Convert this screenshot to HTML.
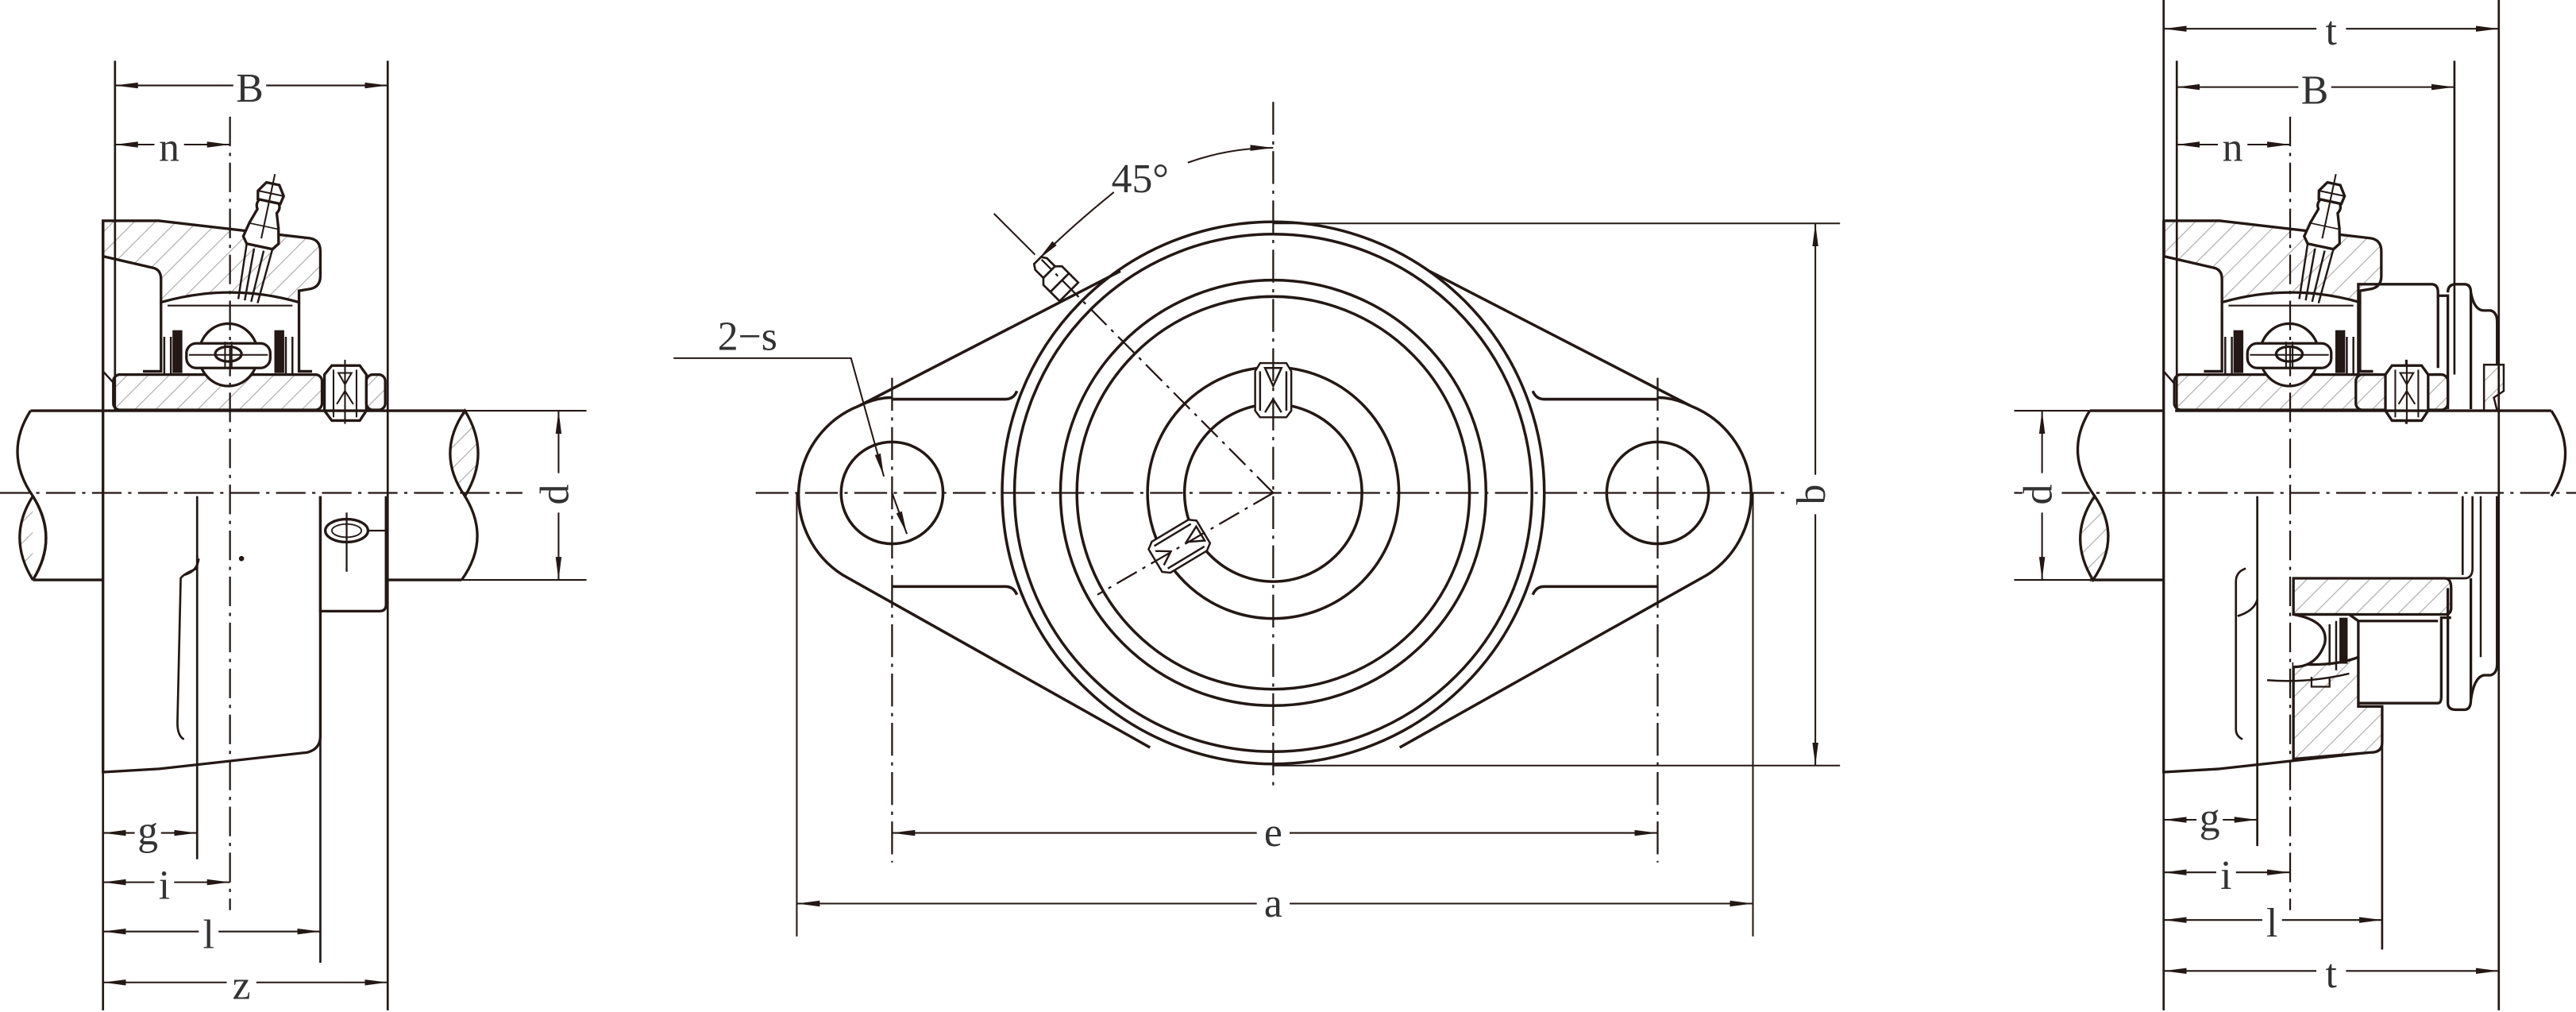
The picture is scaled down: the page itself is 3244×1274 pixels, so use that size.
<!DOCTYPE html>
<html><head><meta charset="utf-8"><style>
html,body{margin:0;padding:0;background:#fff;}
svg{display:block;}
text{font-family:"Liberation Serif",serif;fill:#333;}
</style></head><body>
<svg width="3244" height="1274" viewBox="0 0 1568 616" preserveAspectRatio="none" xmlns="http://www.w3.org/2000/svg">
<defs>
<pattern id="h" patternUnits="userSpaceOnUse" width="9" height="9" patternTransform="rotate(45)">
<rect width="9" height="9" fill="#fff"/><line x1="0" y1="0" x2="0" y2="9" stroke="#aaa" stroke-width="1.1"/>
</pattern>
<marker id="ar" viewBox="0 0 14 6" refX="14" refY="3" markerWidth="14" markerHeight="6" markerUnits="userSpaceOnUse" orient="auto-start-reverse">
<path d="M0,1.2 L14,3 L0,4.8 Z" fill="#231815"/>
</marker>
<g id="up" fill="none" stroke="#231815" stroke-width="1.6">
<path d="M62.7,134.4 L96.7,134.4 L188.5,145 Q195,146 195,153 L195,168 Q195,175 188,176 L182,177 L182,184 Q140,172 98,184 L98,170 Q98,164 93,163 L62.7,156 Z" fill="url(#h)"/>
<path d="M98,184 L98,226 L87,226 M182,184 L182,226 L190,226"/>
<path d="M102,186 L178,186" stroke-width="1"/>
<path d="M100,205 L100,228 M104,205 L104,228 M174,205 L174,228 M178,205 L178,228" stroke-width="1.2"/>
<rect x="105" y="201" width="6" height="26" fill="#231815" stroke="none"/>
<rect x="167" y="201" width="6" height="26" fill="#231815" stroke="none"/>
<rect x="69" y="228" width="127" height="21.5" rx="4" fill="url(#h)"/>
<ellipse cx="139" cy="216" rx="18" ry="19" fill="#fff"/>
<rect x="113.5" y="209" width="51" height="15" rx="6" fill="#fff"/>
<path d="M115,216 L163,216" stroke-width="1"/>
<ellipse cx="139" cy="215.5" rx="8" ry="4.5"/>
<path d="M137,208 L137,224 M141,208 L141,224" stroke-width="1"/>
<path d="M197.5,228 L197.5,250 L202,256 L219,256 L223,250 L223,228 L219,222.5 L202,222.5 Z" fill="#fff"/>
<path d="M203,225 L203,254 M217,225 L217,254 M205,246 L210,238 L215,246 M206,227 L214,227 L210,234 Z" stroke-width="1"/>
<path d="M210,219 L210,258" stroke-width="1"/>
<rect x="223" y="228" width="11.5" height="21.5" rx="4" fill="url(#h)"/>
<g transform="translate(158,150) rotate(12)">
<path d="M-8,0 L-6,34 M8,0 L6,34 M-3,2 L-2,34 M3,2 L2,34" stroke-width="1.2"/>
<path d="M-11,-4 L-9,-13 L9,-13 L11,-4 L8,0 L-8,0 Z" fill="#fff"/>
<path d="M-9,-13 L-6,-22 Q-8,-25 -6,-28 L6,-28 Q8,-25 6,-22 L9,-13" fill="#fff"/>
<path d="M-7,-28 L-8,-33 L-4,-39 L4,-39 L8,-33 L7,-28 Z" fill="#fff"/>
<path d="M-8,-33 L8,-33 M0,-45 L0,-5" stroke-width="1"/>
</g>
</g>
</defs>

<g fill="none" stroke="#231815" stroke-width="1.6">
<use href="#up"/>
<path d="M62.7,134 L62.7,470 L97,468 L187,458 Q195,456 195,448 L195,302"/>
<path d="M62.7,226 L70,234" stroke-width="1.2"/>
<path d="M195,302 L195,372 L231,372 Q235,372 235,368 L235,302"/>
<ellipse cx="211" cy="323" rx="13" ry="7"/>
<ellipse cx="211" cy="323" rx="9" ry="4" stroke-width="0.9"/>
<path d="M211,312 L211,348 M224,323 L235,323" stroke-width="1.1"/>
<path d="M18.6,250 L283,250 M20,353 L62.7,353 M235,353 L281,353"/>
<path d="M18.6,250 Q2,276 20,302 Q36,328 20,353"/>
<path d="M20,302 Q4,327 20,353" fill="url(#h)"/>
<path d="M20,302 Q36,327 20,353"/>
<path d="M283,250 Q265,276 283,302 Q299,276 283,250 Z" fill="url(#h)"/>
<path d="M283,302 Q299,328 281,353"/>
<path d="M283,250 L357,250 M281,353 L357,353" stroke-width="1"/>
<path d="M120,302 L120,523" stroke-width="1.3"/>
<path d="M120,338 L120,346 Q112,349 110,352 L108,440 Q108,448 112,450 M120,346" stroke-width="1.3"/>
<path d="M112,350 Q120,348 121,340" stroke-width="1.3"/>
<path d="M195,372 L195,586" stroke-width="1.3"/>
<path d="M62.7,470 L62.7,615 M236,37 L236,615 M70,37 L70,250" stroke-width="1.3"/>
<circle cx="147" cy="340" r="0.8" fill="#231815"/>
<path d="M140,71 L140,554" stroke-width="1.1" stroke-dasharray="18,4,2,4"/>
<path d="M0,300 L318,300" stroke-width="1.1" stroke-dasharray="18,4,2,4"/>
<g stroke-width="1">
<line x1="70" y1="52" x2="236" y2="52" marker-start="url(#ar)" marker-end="url(#ar)"/>
<line x1="70" y1="88" x2="140" y2="88" marker-start="url(#ar)" marker-end="url(#ar)"/>
<line x1="62.7" y1="507" x2="120" y2="507" marker-start="url(#ar)" marker-end="url(#ar)"/>
<line x1="62.7" y1="537" x2="140" y2="537" marker-start="url(#ar)" marker-end="url(#ar)"/>
<line x1="62.7" y1="567" x2="195" y2="567" marker-start="url(#ar)" marker-end="url(#ar)"/>
<line x1="62.7" y1="598" x2="236" y2="598" marker-start="url(#ar)" marker-end="url(#ar)"/>
<line x1="340" y1="250" x2="340" y2="353" marker-start="url(#ar)" marker-end="url(#ar)"/>
</g>
</g>
<g font-size="25" text-anchor="middle" stroke="none">
<rect x="142" y="40" width="20" height="24" fill="#fff"/><text x="152" y="62">B</text>
<rect x="94" y="76" width="18" height="24" fill="#fff"/><text x="103" y="98">n</text>
<rect x="82" y="496" width="16" height="22" fill="#fff"/><text x="90" y="514">g</text>
<rect x="94" y="526" width="12" height="22" fill="#fff"/><text x="100" y="547">i</text>
<rect x="121" y="556" width="12" height="24" fill="#fff"/><text x="127" y="577">l</text>
<rect x="138" y="586" width="18" height="24" fill="#fff"/><text x="147" y="608">z</text>
<rect x="328" y="288" width="24" height="24" fill="#fff"/>
<text x="340" y="301" transform="rotate(-90 340 301)" dominant-baseline="middle">d</text>
</g>

<g fill="none" stroke="#231815" stroke-width="1.7">
<path d="M543,243 L612,243 Q617,243 619,238 M543,357 L612,357 Q617,357 619,362"/>
<path d="M1009,243 L940,243 Q935,243 933,238 M1009,357 L940,357 Q935,357 933,362"/>
<path d="M523,247 A58,58 0 0 0 513,350 L700,455"/>
<path d="M523,247 L682,165"/>
<path d="M1029,247 A58,58 0 0 1 1039,350 L852,455"/>
<path d="M1029,247 L870,165"/>
<path d="M523,247 Q533,242 543,242 M1029,247 Q1019,242 1009,242"/>
<circle cx="543" cy="300" r="31"/>
<circle cx="1009" cy="300" r="31"/>
<circle cx="775" cy="300" r="165" fill="none"/>
<circle cx="775" cy="300" r="157.5"/>
<circle cx="775" cy="300" r="129.5"/>
<circle cx="775" cy="300" r="119.5"/>
<circle cx="775" cy="300" r="76.5"/>
<circle cx="775" cy="300" r="54"/>
<g stroke-width="1.2">
<path d="M764,226 L767,221 L783,221 L786,226 L786,250 L783,254 L767,254 L764,250 Z" fill="#fff"/>
<path d="M767,226 L767,250 M783,226 L783,250 M770,224 L780,224 L775,235 Z M770,251 L775,243 L780,251"/>
</g>
<g stroke-width="1.2" transform="translate(717,333) rotate(59)">
<path d="M-11,-14 L-8,-18 L8,-18 L11,-14 L11,12 L8,16 L-8,16 L-11,12 Z" fill="#fff"/>
<path d="M-8,-14 L-8,12 M8,-14 L8,12 M-5,-16 L5,-16 L0,-6 Z M-5,13 L0,5 L5,13"/>
</g>
<g stroke-width="1.3" transform="translate(645,172) rotate(-45)">
<path d="M-8,8 L-8,-6 L-5,-9 L-5,-16 L-3,-19 L3,-19 L5,-16 L5,-9 L8,-6 L8,8 Z" fill="#fff"/>
<path d="M-8,0 L8,0 M-5,-9 L5,-9"/>
</g>
<path d="M775,136 L1120,136 M775,466 L1120,466" stroke-width="1"/>
<path d="M485,300 L485,570 M1067,300 L1067,570" stroke-width="1"/>
<path d="M775,62 L775,480" stroke-width="1.1" stroke-dasharray="20,4,2,4"/>
<path d="M460,300 L1090,300" stroke-width="1.1" stroke-dasharray="20,4,2,4"/>
<path d="M543,230 L543,525 M1009,230 L1009,525" stroke-width="1.1" stroke-dasharray="20,4,2,4"/>
<path d="M775,300 L668,362" stroke-width="1.1" stroke-dasharray="14,4,2,4"/>
<path d="M775,300 L634,158" stroke-width="1.1" stroke-dasharray="14,4,2,4"/>
<path d="M630,155 L605,130" stroke-width="1"/>
<path d="M723,99 Q748,90 775,90" stroke-width="1" marker-end="url(#ar)"/>
<path d="M678,117 Q652,138 632,158" stroke-width="1" marker-end="url(#ar)"/>
<path d="M410,218 L518,218 L538,290" stroke-width="1" marker-end="url(#ar)"/>
<path d="M543,300 L552,325" stroke-width="1" marker-end="url(#ar)"/>
<g stroke-width="1">
<line x1="543" y1="507" x2="1009" y2="507" marker-start="url(#ar)" marker-end="url(#ar)"/>
<line x1="485" y1="550" x2="1067" y2="550" marker-start="url(#ar)" marker-end="url(#ar)"/>
<line x1="1105" y1="136" x2="1105" y2="466" marker-start="url(#ar)" marker-end="url(#ar)"/>
</g>
</g>
<g font-size="25" text-anchor="middle" stroke="none">
<text x="694" y="117">45°</text>
<text x="455" y="213">2−s</text>
<rect x="765" y="495" width="20" height="24" fill="#fff"/><text x="775" y="515">e</text>
<rect x="765" y="538" width="20" height="24" fill="#fff"/><text x="775" y="558">a</text>
<rect x="1093" y="289" width="24" height="24" fill="#fff"/>
<text x="1105" y="301" transform="rotate(-90 1105 301)" dominant-baseline="middle">b</text>
</g>

<g fill="none" stroke="#231815" stroke-width="1.6">
<use href="#up" transform="translate(1254.5,0)"/>
<path d="M1317,134 L1317,470 L1351,468 L1442,458 Q1450,456 1450,448 L1450,430"/>
<path d="M1317,226 L1324,234" stroke-width="1.2"/>
<path d="M1435.5,228 L1435.5,173 L1480,173 Q1484,173 1484,178 L1484,224"/>
<path d="M1484,180 L1490,180 L1490,249 M1490,178 Q1490,173 1495,173 L1500,173 Q1504,173 1504,178 L1504,249"/>
<path d="M1504,178 Q1506,189 1512,189 L1516,189 Q1520,190 1520,196 L1520,222"/>
<path d="M1512,222 L1524,222 L1524,238 L1518,242 L1520,250 L1512,250 Z" fill="url(#h)" stroke-width="1.2"/>
<rect x="1434" y="228" width="56" height="21.5" rx="4" fill="url(#h)"/>
<path d="M1452,228 L1452,250 L1456,256 L1474,256 L1478,250 L1478,228 L1474,222.5 L1456,222.5 Z" fill="#fff"/>
<path d="M1458,225 L1458,254 M1472,225 L1472,254 M1460,246 L1465,238 L1470,246 M1461,227 L1469,227 L1465,234 Z M1465,219 L1465,258" stroke-width="1"/>
<path d="M1272,250 L1317,250 M1324,250 L1553,250 M1272,353 L1317,353" />
<path d="M1272,250 Q1256,276 1275,302"/>
<path d="M1275,302 Q1258,327 1274,353 Q1292,327 1275,302 Z" fill="url(#h)"/>
<path d="M1553,250 Q1570,276 1553,302"/>
<path d="M1226,250 L1272,250 M1226,353 L1272,353" stroke-width="1"/>
<path d="M1396,352 L1500,352 Q1505,352 1505,346 L1505,302 M1499,302 L1499,350" stroke-width="1.3"/>
<path d="M1396,352 L1488,352 Q1492,352 1492,358 L1492,370 Q1492,374 1488,374 L1396,374 Z" fill="url(#h)"/>
<path d="M1396,374 L1430,374 L1435.5,378 L1435.5,428 L1484,428 Q1486,428 1486,424 L1486,376 L1492,376" />
<path d="M1435.5,378 L1484,378 M1490,358 L1490,428 Q1490,432 1495,432 L1500,432 Q1504,432 1504,426 L1504,352"/>
<path d="M1504,426 Q1506,412 1512,411 L1516,411 Q1520,410 1520,404 L1520,302"/>
<path d="M1510,302 L1510,400" stroke-width="1.2"/>
<path d="M1396,404 Q1420,406 1435.5,400 L1435.5,430 L1450,430 L1450,452 Q1450,458 1443,458 L1396,462 Z" fill="url(#h)"/>
<path d="M1396,374 Q1418,378 1415,392 Q1410,406 1396,406" fill="#fff"/>
<path d="M1418,380 L1418,405 M1422,378 L1422,408" stroke-width="1.2"/>
<rect x="1424" y="376" width="5" height="28" fill="#231815" stroke="none"/>
<path d="M1380,414 Q1405,416 1430,410" stroke-width="1.2"/>
<path d="M1407,412 L1407,418 L1418,418 L1418,412" stroke-width="1.1"/>
<path d="M1450,430 L1450,578" stroke-width="1.3"/>
<path d="M1374,302 L1374,515" stroke-width="1.3"/>
<path d="M1367,346 Q1361,348 1361,354 L1361,444 Q1361,448 1365,450 M1362,375 Q1372,372 1374,365" stroke-width="1.3"/>
<path d="M1317,470 L1317,615 M1317,0 L1317,134 M1521,0 L1521,615 M1325,37 L1325,250 M1494,37 L1494,228" stroke-width="1.3"/>
<path d="M1394,71 L1394,554" stroke-width="1.1" stroke-dasharray="18,4,2,4"/>
<path d="M1226,300 L1568,300" stroke-width="1.1" stroke-dasharray="18,4,2,4"/>
<g stroke-width="1">
<line x1="1317" y1="17.5" x2="1521" y2="17.5" marker-start="url(#ar)" marker-end="url(#ar)"/>
<line x1="1325" y1="53" x2="1494" y2="53" marker-start="url(#ar)" marker-end="url(#ar)"/>
<line x1="1325" y1="88" x2="1394" y2="88" marker-start="url(#ar)" marker-end="url(#ar)"/>
<line x1="1317" y1="499" x2="1374" y2="499" marker-start="url(#ar)" marker-end="url(#ar)"/>
<line x1="1317" y1="531" x2="1394" y2="531" marker-start="url(#ar)" marker-end="url(#ar)"/>
<line x1="1317" y1="560" x2="1450" y2="560" marker-start="url(#ar)" marker-end="url(#ar)"/>
<line x1="1317" y1="591" x2="1521" y2="591" marker-start="url(#ar)" marker-end="url(#ar)"/>
<line x1="1243" y1="250" x2="1243" y2="353" marker-start="url(#ar)" marker-end="url(#ar)"/>
</g>
</g>
<g font-size="25" text-anchor="middle" stroke="none">
<rect x="1410" y="5" width="18" height="24" fill="#fff"/><text x="1419" y="27">t</text>
<rect x="1399" y="41" width="20" height="24" fill="#fff"/><text x="1409" y="63">B</text>
<rect x="1350" y="76" width="18" height="24" fill="#fff"/><text x="1359" y="98">n</text>
<rect x="1337" y="488" width="16" height="22" fill="#fff"/><text x="1345" y="506">g</text>
<rect x="1349" y="520" width="12" height="22" fill="#fff"/><text x="1355" y="541">i</text>
<rect x="1377" y="549" width="12" height="24" fill="#fff"/><text x="1383" y="570">l</text>
<rect x="1410" y="579" width="18" height="24" fill="#fff"/><text x="1419" y="601">t</text>
<rect x="1231" y="288" width="24" height="24" fill="#fff"/>
<text x="1243" y="301" transform="rotate(-90 1243 301)" dominant-baseline="middle">d</text>
</g>
</svg>
</body></html>
